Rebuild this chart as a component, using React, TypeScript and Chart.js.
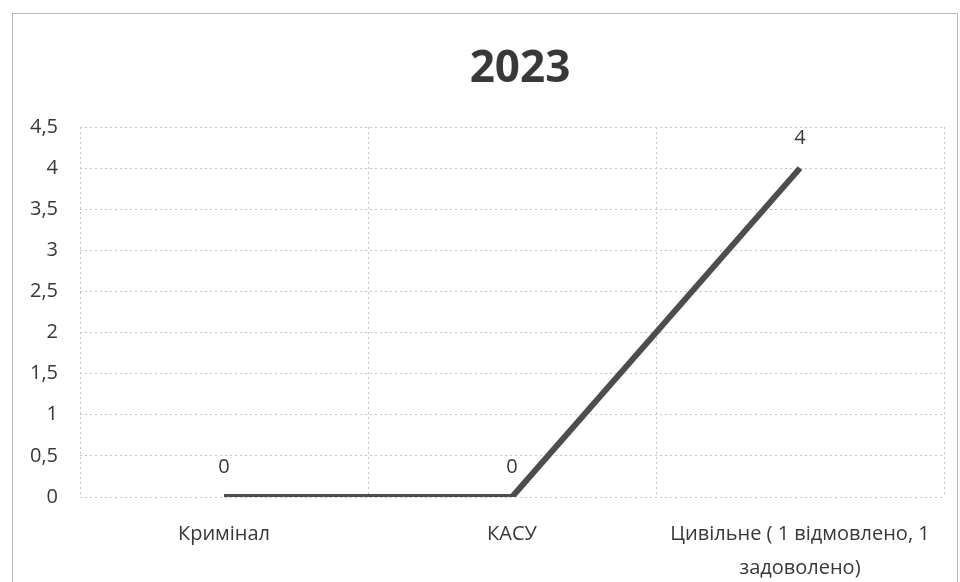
import React, { useEffect, useRef } from "react";
import { Chart, registerables } from "chart.js";

Chart.register(...registerables);

const title = "2023";
const categories: (string | string[])[] = [
  "Кримінал",
  "КАСУ",
  ["Цивільне ( 1 відмовлено, 1", "задоволено)"],
];
const values = [0, 0, 4];
const yMin = 0;
const yMax = 4.5;
const yStep = 0.5;

const FONT = "'Open Sans', 'DejaVu Sans', sans-serif";
const TEXT = "#383838";

const valueLabels = {
  id: "valueLabels",
  afterDatasetsDraw(chart: any) {
    const ctx = chart.ctx;
    const meta = chart.getDatasetMeta(0);
    ctx.save();
    ctx.fillStyle = TEXT;
    ctx.font = `20px ${FONT}`;
    ctx.textAlign = "center";
    ctx.textBaseline = "middle";
    meta.data.forEach((pt: any, i: number) => {
      ctx.fillText(String(values[i]).replace(".", ","), pt.x, pt.y - 30);
    });
    ctx.restore();
  },
};

const titlePlugin = {
  id: "customTitle",
  afterDraw(chart: any) {
    const ctx = chart.ctx;
    ctx.save();
    ctx.fillStyle = "#383838";
    ctx.font = `bold 44px ${FONT}`;
    ctx.textAlign = "center";
    ctx.textBaseline = "middle";
    ctx.fillText(title, 520, 69);
    ctx.restore();
  },
};

export default function App() {
  const ref = useRef<HTMLCanvasElement | null>(null);
  useEffect(() => {
    if (!ref.current) return;
    const chart = new Chart(ref.current, {
      type: "line",
      data: {
        labels: categories,
        datasets: [
          {
            data: values,
            borderColor: "#4d4d4d",
            borderWidth: 6,
            pointRadius: 0,
            pointHoverRadius: 0,
            tension: 0,
            fill: false,
          },
        ],
      },
      options: {
        animation: false,
        responsive: false,
        maintainAspectRatio: false,
        layout: { padding: { top: 127, right: 16, bottom: 0, left: 10 } },
        plugins: {
          legend: { display: false },
          tooltip: { enabled: false },
          title: { display: false },
        },
        scales: {
          x: {
            type: "category",
            offset: true,
            grid: {
              offset: true,
              color: "#c4c4c4",
              lineWidth: 1,
              drawTicks: false,
            },
            border: { display: false },
            ticks: {
              color: TEXT,
              font: { family: FONT, size: 20, lineHeight: 1.7 },
              padding: 20,
              maxRotation: 0,
              autoSkip: false,
            },
            afterFit(scale: any) {
              scale.height = 85;
            },
          },
          y: {
            min: yMin,
            max: yMax,
            grid: { color: "#c4c4c4", lineWidth: 1, drawTicks: false },
            border: { display: false },
            ticks: {
              stepSize: yStep,
              color: TEXT,
              font: { family: FONT, size: 20 },
              padding: 22,
              callback: (v: any) => String(v).replace(".", ","),
            },
            afterFit(scale: any) {
              scale.width = 70;
            },
          },
        },
      },
      plugins: [valueLabels, titlePlugin],
    });
    (chart.options.scales as any).x.grid.borderDash = [2, 3];
    (chart.options.scales as any).y.grid.borderDash = [2, 3];
    (chart.options.scales as any).x.border.dash = [2, 3];
    (chart.options.scales as any).y.border.dash = [2, 3];
    chart.update();
    return () => chart.destroy();
  }, []);
  return (
    <div style={{ position: "fixed", left: 0, top: 0, width: 960, height: 582, background: "#fff" }}>
      <div
        style={{
          position: "absolute",
          left: 12,
          top: 13,
          width: 946,
          height: 580,
          border: "1px solid #b8b8b8",
          boxSizing: "border-box",
        }}
      />
      <canvas ref={ref} width={960} height={582} style={{ position: "absolute", left: 0, top: 0 }} />
    </div>
  );
}
